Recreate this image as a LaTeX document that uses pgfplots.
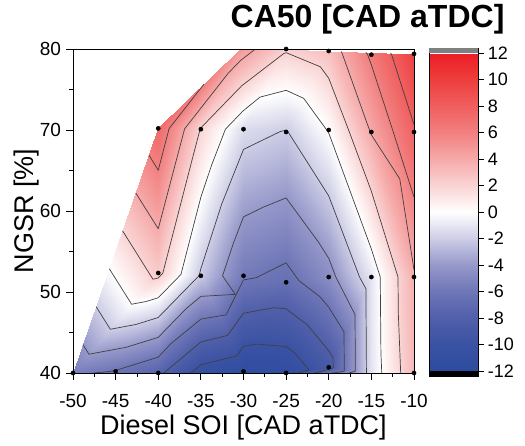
\documentclass[border=0pt]{standalone}
\usepackage{fontspec}
\setmainfont{Liberation Sans}
\usepackage{pgfplots}
\usepackage{pgfplotstable}
\pgfplotsset{compat=1.18}
\pgfplotsset{/pgf/number format/assume math mode=true, colorbar/width=49pt}

% triangulated measurement grid: Diesel SOI, NGSR, CA50 (3 rows = one triangle)
\pgfplotstableread{
x y c
-50 40 -5.5
-45 40.2 -6.1
-40 52.35 2.5
-45 40.2 -6.1
-40 40 -7.6
-40 52.35 2.5
-50 40 -5.5
-40 52.35 2.5
-40 70.2 7.4
-40 40 -7.6
-40 52.35 2.5
-35 52 -2.2
-40 40 -7.6
-35 39.6 -11.0
-35 52 -2.2
-35 39.6 -11.0
-30 40.2 -11.5
-35 52 -2.2
-30 40.2 -11.5
-35 52 -2.2
-30 52 -5.75
-30 40.2 -11.5
-25 40 -11.4
-25 51.2 -6.6
-30 40.2 -11.5
-30 52 -5.75
-25 51.2 -6.6
-25 40 -11.4
-25 51.2 -6.6
-20 51.85 -4.6
-25 40 -11.4
-20 40.7 -8.8
-20 51.85 -4.6
-20 40.7 -8.8
-20 51.85 -4.6
-15 51.85 -1.0
-20 40.7 -8.8
-15 39.9 -1.1
-15 51.85 -1.0
-15 39.9 -1.1
-15 51.85 -1.0
-10 51.85 3.8
-15 39.9 -1.1
-10 40 3.4
-10 51.85 3.8
-40 52.35 2.5
-40 70.2 7.4
-35 70.1 1.9
-40 52.35 2.5
-35 52 -2.2
-35 70.1 1.9
-35 52 -2.2
-30 52 -5.75
-35 70.1 1.9
-30 52 -5.75
-35 70.1 1.9
-30 70.1 -1.4
-30 52 -5.75
-25 51.2 -6.6
-25 69.75 -2.1
-30 52 -5.75
-30 70.1 -1.4
-25 69.75 -2.1
-25 51.2 -6.6
-20 51.85 -4.6
-25 69.75 -2.1
-20 51.85 -4.6
-25 69.75 -2.1
-20 70 0.1
-20 51.85 -4.6
-15 51.85 -1.0
-20 70 0.1
-15 51.85 -1.0
-20 70 0.1
-15 69.75 4.1
-15 51.85 -1.0
-10 51.85 3.8
-15 69.75 4.1
-10 51.85 3.8
-15 69.75 4.1
-10 69.75 7.8
-40 70.2 7.4
-35 70.1 1.9
-30.4 80 4.9
-35 70.1 1.9
-30 70.1 -1.4
-30.4 80 4.9
-30 70.1 -1.4
-30.4 80 4.9
-25 80 2.2
-30 70.1 -1.4
-25 69.75 -2.1
-25 80 2.2
-25 69.75 -2.1
-25 80 2.2
-20 79.75 3.0
-25 69.75 -2.1
-20 70 0.1
-20 79.75 3.0
-20 70 0.1
-15 69.75 4.1
-20 79.75 3.0
-15 69.75 4.1
-20 79.75 3.0
-15 79.3 6.3
-15 69.75 4.1
-10 69.75 7.8
-15 79.3 6.3
-10 69.75 7.8
-15 79.3 6.3
-10 79.4 9.9
-20 79.75 3.0
-15 79.3 6.3
-10 79.4 9.9
-50 40 -5.5
-45 40.2 -6.1
-40 40 -7.6
-35 39.6 -11.0
-30 40.2 -11.5
-25 40 -11.4
-25 40 -11.4
-20 40.7 -8.8
-15 39.9 -1.1
}\tris

\pgfplotstableread{
x y
-50 40
-45 40.2
-40 40
-35 39.6
-30 40.2
-25 40
-20 40.7
-15 39.9
-10 40
-40 52.35
-35 52
-30 52
-25 51.2
-20 51.85
-15 51.85
-10 51.85
-40 70.2
-35 70.1
-30 70.1
-25 69.75
-20 70
-15 69.75
-10 69.75
-25 80
-20 79.75
-15 79.3
-10 79.4
}\dotstab

\pgfplotsset{cl/.style={draw=black!75, line width=0.7pt, no marks, line join=round}}

\begin{document}
\begin{tikzpicture}
\useasboundingbox (-73pt,-72pt) rectangle (452pt,373pt);
\begin{axis}[
  at={(0pt,0pt)}, anchor=south west,
  scale only axis, width=341pt, height=324pt,
  xmin=-50, xmax=-10, ymin=40, ymax=80,
  xtick={-50,-45,...,-10}, ytick={40,50,...,80},
  minor x tick num=1, minor y tick num=1,
  tick pos=left, tick align=outside,
  major tick length=6.5pt, minor tick length=3.5pt,
  every tick/.style={black, line width=0.8pt},
  axis line style={line width=0.9pt},
  ticklabel style={font=\fontsize{19}{19}\selectfont},
  xticklabel style={yshift=-11pt},
  yticklabel style={xshift=-2pt},
  xlabel={Diesel SOI [CAD aTDC]}, ylabel={NGSR [\%]},
  label style={font=\fontsize{27}{27}\selectfont},
  xlabel style={at={(axis description cs:0.5,-0.1883)}, anchor=base},
  ylabel style={at={(axis description cs:-0.1173,0.5)}, anchor=base},
  title={CA50 [CAD aTDC]},
  title style={font=\bfseries\fontsize{32}{32}\selectfont, at={(axis description cs:1.2757,1.049)}, anchor=base east},
  axis on top,
  colormap={rwb}{rgb255(0pt)=(44,76,160); rgb255(2pt)=(58,82,163); rgb255(4pt)=(80,95,170); rgb255(6pt)=(110,118,183); rgb255(8pt)=(150,152,202); rgb255(10pt)=(205,205,230); rgb255(12pt)=(255,255,255); rgb255(14pt)=(250,212,212); rgb255(16pt)=(246,170,170); rgb255(18pt)=(242,128,128); rgb255(20pt)=(240,95,95); rgb255(22pt)=(238,62,62); rgb255(24pt)=(236,30,36)},
  point meta min=-12, point meta max=12,
  colorbar,
  colorbar style={
    scale only axis,
    width=49pt, height=327.7pt,
    xmin=0, xmax=1, enlargelimits=false,
    at={(parent axis.north east)}, anchor=north west,
    xshift=6.7pt, yshift=0.7pt,
    ymin=-12.38, ymax=12.38,
    ytick={-12,-10,...,12},
    ytick pos=right, yticklabel pos=right,
    tick align=outside,
    major tick length=6pt,
    every tick/.style={black, line width=0.8pt},
    axis line style={line width=0.8pt},
    yticklabel style={font=\fontsize{18}{18}\selectfont},
    after end axis/.code={
      \fill[black] (rel axis cs:0,0) rectangle (rel axis cs:1,0.01535);
      \fill[gray] (rel axis cs:0,0.98465) rectangle (rel axis cs:1,1);
    },
  },
]
\addplot[patch, patch type=triangle, shader=interp, point meta=explicit] table[x=x, y=y, meta=c] \tris;

% contour lines, levels -10 ... 8 (step 2)
\addplot[cl] coordinates {(-36.47,39.72) (-35,41.01) (-30.81,42.10) (-30,43.28) (-28.47,43.57) (-25,43.27) (-23.97,42.44) (-22.31,40.38) (-23.64,39.99)};
\addplot[cl] coordinates {(-39.41,39.95) (-35,43.83) (-31.88,44.64) (-30,47.38) (-26.43,48.06) (-25,47.93) (-22.5,45.93) (-20,42.74) (-19.49,41.86) (-19.48,40.62) (-21.7,39.97)};
\addplot[cl] coordinates {(-47.62,40) (-45.83,40.17) (-44.94,40.34) (-40,41.96) (-38.52,43.62) (-35,46.65) (-32.04,47.18) (-30,51.49) (-28.53,51.76) (-25,53.6) (-23.5,51.4) (-21.03,49.41) (-20,48.12) (-18.21,45.08) (-18.18,40.23) (-19.76,39.95)};
\addplot[cl] coordinates {(-48.84,43.51) (-48.125,42.32) (-43.78,43.17) (-40,44.40) (-36.67,48.0) (-35,49.46) (-30.97,49.71) (-32.46,52.0) (-31.14,56.14) (-30,59.28) (-27.60,60.51) (-25,61.61) (-21.2,56.15) (-20,54.16) (-19.17,51.85) (-16.92,47.21) (-16.88,40.23) (-17.82,39.93)};
\addplot[cl] coordinates {(-47.29,48.19) (-45.625,45.40) (-42.62,45.99) (-40,46.85) (-35.21,52.02) (-35,52.88) (-32.55,60.87) (-30,67.60) (-25.71,69.80) (-25,69.99) (-24.9,69.95) (-24.77,69.76) (-20,61.86) (-16.39,51.85) (-15.64,50.40) (-15.58,39.99)};
\addplot[cl] coordinates {(-45.74,52.87) (-43.125,48.49) (-41.45,48.82) (-40,49.29) (-37.34,52.16) (-35,61.71) (-33.76,65.61) (-32.12,70.1) (-30.09,72.32) (-28.06,74.06) (-25,74.90) (-22.94,73.91) (-20.23,69.99) (-20,69.61) (-19.55,68.35) (-15,55.30) (-13.96,51.85) (-13.88,42.54) (-13.78,39.93)};
\addplot[cl] coordinates {(-44.19,57.56) (-40.625,51.58) (-40.29,51.65) (-40,51.74) (-39.47,52.31) (-35.83,67.14) (-35.09,70.10) (-34.85,70.43) (-30.22,75.45) (-25.28,79.44) (-25,79.55) (-20.98,77.80) (-20,76.39) (-17.63,69.88) (-15,62.44) (-11.875,51.85) (-11.84,47.38) (-11.56,39.97)};
\addplot[cl] coordinates {(-42.64,62.23) (-40,57.81) (-36.91,70.14) (-31.78,77.03) (-30.34,78.59) (-28.6,80)};
\addplot[cl] coordinates {(-18.55,79.70) (-18.48,79.61) (-15.45,70.66) (-15.12,69.76) (-15,69.40) (-11.67,63.97) (-10,52.75)};
\addplot[cl] coordinates {(-41.09,66.91) (-40,65.03) (-38.73,70.17) (-34.62,75.69)};
\addplot[cl] coordinates {(-15.65,79.6) (-15.45,79.34) (-15,78.04) (-12.43,69.75) (-10,61.72)};
\addplot[cl] coordinates {(-12.75,79.5) (-12.64,79.35) (-10,70.67)};

\addplot[only marks, mark=*, mark size=2.1pt, black] table[x=x, y=y] \dotstab;
\end{axis}
\end{tikzpicture}
\end{document}
